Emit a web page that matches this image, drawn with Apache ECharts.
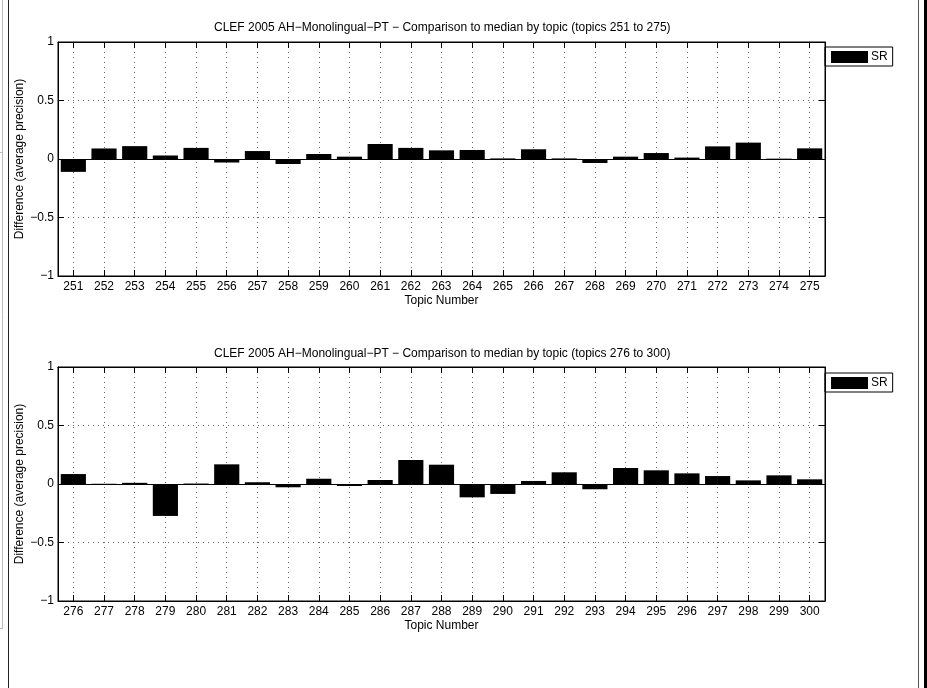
<!DOCTYPE html>
<html>
<head>
<meta charset="utf-8">
<script src="https://cdn.jsdelivr.net/npm/echarts@6/dist/echarts.min.js"></script>
<style>
html,body{margin:0;padding:0;background:#fff;}
#chart{width:927px;height:688px;}
</style>
</head>
<body>
<div id="chart"></div>
<script>
const topicsA = ['251','252','253','254','255','256','257','258','259','260','261','262','263','264','265','266','267','268','269','270','271','272','273','274','275'];
const valuesA = [-0.11, 0.09, 0.11, 0.03, 0.095, -0.03, 0.068, -0.043, 0.043, 0.02, 0.128, 0.095, 0.074, 0.077, 0.005, 0.083, 0.005, -0.034, 0.02, 0.051, 0.012, 0.108, 0.14, 0.003, 0.091];
const topicsB = ['276','277','278','279','280','281','282','283','284','285','286','287','288','289','290','291','292','293','294','295','296','297','298','299','300'];
const valuesB = [0.085, 0.002, 0.01, -0.273, 0.004, 0.168, 0.015, -0.028, 0.045, -0.017, 0.034, 0.205, 0.165, -0.114, -0.085, 0.026, 0.1, -0.045, 0.137, 0.117, 0.091, 0.068, 0.031, 0.074, 0.04];
const titleA = 'CLEF 2005 AH\u2212Monolingual\u2212PT \u2212 Comparison to median by topic (topics 251 to 275)';
const titleB = 'CLEF 2005 AH\u2212Monolingual\u2212PT \u2212 Comparison to median by topic (topics 276 to 300)';
const yTitle = 'Difference (average precision)';
const xTitle = 'Topic Number';
const seriesName = 'SR';

const FONT = 'Liberation Sans, Arial, Helvetica, sans-serif';
const FS = 12;
const chart = echarts.init(document.getElementById('chart'), null, {renderer: 'canvas'});

const grids = [
  {left: 58, top: 42, width: 767, height: 234},
  {left: 58, top: 367, width: 767, height: 234}
];

function xAxes(idx, cats) {
  return [
    {
      type: 'category', gridIndex: idx, data: cats, position: 'bottom',
      boundaryGap: true,
      name: xTitle, nameLocation: 'middle', nameGap: 19, nameMoveOverlap: false,
      nameTextStyle: {fontFamily: FONT, fontSize: FS, color: '#000'},
      axisLine: {show: true, onZero: false, lineStyle: {color: '#000', width: 1}},
      axisTick: {show: true, inside: true, length: 6, alignWithLabel: true, lineStyle: {color: '#000'}},
      axisLabel: {color: '#000', fontFamily: FONT, fontSize: FS, margin: 5, interval: 0},
      splitLine: {show: true, alignWithLabel: true, lineStyle: {color: '#666', type: [1, 4], width: 1}}
    },
    {
      type: 'category', gridIndex: idx, data: cats, position: 'top',
      boundaryGap: true,
      axisLine: {show: true, onZero: false, lineStyle: {color: '#000', width: 1}},
      axisTick: {show: true, inside: true, length: 6, alignWithLabel: true, lineStyle: {color: '#000'}},
      axisLabel: {show: false},
      splitLine: {show: false}
    }
  ];
}

function yAxes(idx) {
  return [
    {
      type: 'value', gridIndex: idx, min: -1, max: 1, interval: 0.5, position: 'left',
      name: yTitle, nameLocation: 'middle', nameGap: 32, nameMoveOverlap: false,
      nameTextStyle: {fontFamily: FONT, fontSize: FS, color: '#000'},
      axisLine: {show: true, lineStyle: {color: '#000', width: 1}},
      axisTick: {show: true, inside: true, length: 6, lineStyle: {color: '#000'}},
      axisLabel: {color: '#000', fontFamily: FONT, fontSize: FS, margin: 4,
        formatter: v => String(v).replace('-', '\u2212')},
      splitLine: {show: true, lineStyle: {color: '#666', type: [1, 4], width: 1}}
    },
    {
      type: 'value', gridIndex: idx, min: -1, max: 1, interval: 0.5, position: 'right',
      axisLine: {show: true, lineStyle: {color: '#000', width: 1}},
      axisTick: {show: true, inside: true, length: 6, lineStyle: {color: '#000'}},
      axisLabel: {show: false},
      splitLine: {show: false}
    }
  ];
}

function barSeries(idx, values) {
  return {
    name: seriesName, type: 'bar',
    xAxisIndex: idx * 2, yAxisIndex: idx * 2,
    data: values,
    barCategoryGap: '18%',
    itemStyle: {color: '#000', borderWidth: 0},
    emphasis: {disabled: true},
    silent: true,
    markLine: {
      silent: true, symbol: 'none', label: {show: false},
      lineStyle: {color: '#000', type: 'solid', width: 1.2},
      data: [{yAxis: 0}]
    }
  };
}

function legendAt(top) {
  return {data: [seriesName], left: 825, top: top, orient: 'vertical',
    borderColor: '#000', borderWidth: 1, padding: [4, 5, 3, 6],
    itemWidth: 37, itemHeight: 12, icon: 'rect', selectedMode: false,
    itemStyle: {color: '#000'},
    textStyle: {fontFamily: FONT, fontSize: FS, color: '#000', padding: [0, 0, 0, -2]}};
}

const option = {
  backgroundColor: '#fff',
  animation: false,
  title: [
    {text: titleA, left: 214, top: 22, padding: 0,
     textStyle: {fontFamily: FONT, fontSize: FS, fontWeight: 'normal', color: '#000'}},
    {text: titleB, left: 214, top: 348, padding: 0,
     textStyle: {fontFamily: FONT, fontSize: FS, fontWeight: 'normal', color: '#000'}}
  ],
  legend: [legendAt(47), legendAt(373)],
  grid: grids.map(g => Object.assign({show: true, borderColor: '#000', borderWidth: 1, backgroundColor: 'transparent'}, g)),
  xAxis: [...xAxes(0, topicsA), ...xAxes(1, topicsB)],
  yAxis: [...yAxes(0), ...yAxes(1)],
  series: [barSeries(0, valuesA), barSeries(1, valuesB)],
  graphic: [
    {type: 'line', shape: {x1: 8.5, y1: 0, x2: 8.5, y2: 688}, style: {stroke: '#222', lineWidth: 1}, silent: true},
    {type: 'line', shape: {x1: 2.5, y1: 0, x2: 2.5, y2: 629}, style: {stroke: '#bbb', lineWidth: 1}, silent: true},
    {type: 'line', shape: {x1: 0, y1: 152.5, x2: 3, y2: 152.5}, style: {stroke: '#bbb', lineWidth: 1}, silent: true},
    {type: 'line', shape: {x1: 0, y1: 628.5, x2: 3, y2: 628.5}, style: {stroke: '#bbb', lineWidth: 1}, silent: true},
    {type: 'line', shape: {x1: 918.5, y1: 0, x2: 918.5, y2: 688}, style: {stroke: '#555', lineWidth: 1}, silent: true},
    {type: 'rect', shape: {x: 924, y: 0, width: 3, height: 688}, style: {fill: '#000'}, silent: true}
  ]
};
chart.setOption(option);
</script>
</body>
</html>
